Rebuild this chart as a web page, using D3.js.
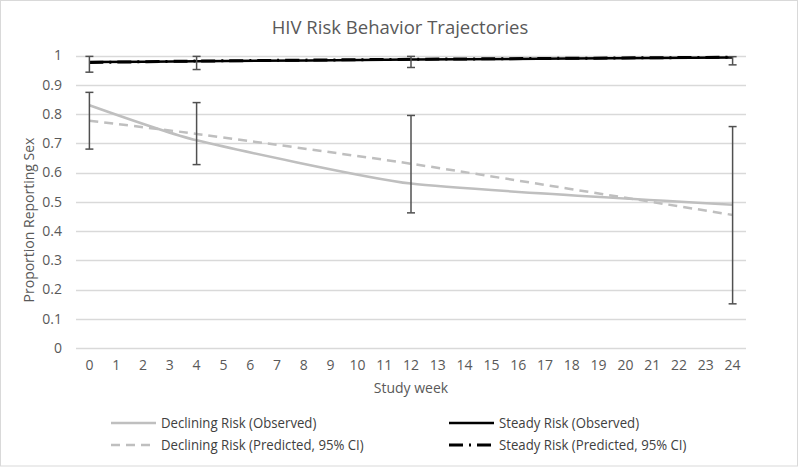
<!DOCTYPE html>
<html>
<head>
<meta charset="utf-8">
<script src="https://cdn.jsdelivr.net/npm/d3@7"></script>
<style>
  body { margin: 0; background: #fff; }
  text { font-family: "Open Sans", "Noto Sans", sans-serif; fill: #595959; }
  .legend text { fill: #404040; }
</style>
</head>
<body>
<svg></svg>
<script>
// category axis: study weeks 0..24
var weeks = d3.range(0, 25);
var yTicks = [0, 0.1, 0.2, 0.3, 0.4, 0.5, 0.6, 0.7, 0.8, 0.9, 1];

// measured weeks
var obsWeeks = [0, 4, 12, 24];

var decliningObserved  = [0.83, 0.71, 0.562, 0.49];
var decliningPredicted = [0.777, 0.732, 0.63, 0.455];
var decliningLower     = [0.68, 0.627, 0.462, 0.151];
var decliningUpper     = [0.874, 0.839, 0.795, 0.757];

var steadyObserved  = [0.978, 0.98, 0.986, 0.993];
var steadyPredicted = [0.976, 0.981, 0.987, 0.994];
var steadyLower     = [0.943, 0.952, 0.959, 0.968];
var steadyUpper     = [0.997, 0.997, 0.997, 0.996];

var legendItems = [
  { label: 'Declining Risk (Observed)', color: '#bfbfbf', dash: null, w: 2.5 },
  { label: 'Steady Risk (Observed)', color: '#000', dash: null, w: 2.5 },
  { label: 'Declining Risk (Predicted, 95% CI)', color: '#bfbfbf', dash: '9,6', w: 2.5 },
  { label: 'Steady Risk (Predicted, 95% CI)', color: '#000', dash: '14,6,2,6', w: 3 }
];

var W = 800, H = 468;
var margin = { top: 55.5, right: 54, bottom: 120, left: 76 };

var svg = d3.select('svg')
    .attr('width', W)
    .attr('height', H);

svg.append('rect')
    .attr('x', 0.5).attr('y', 0.5)
    .attr('width', W - 3).attr('height', H - 2.5)
    .attr('fill', '#fff')
    .attr('stroke', '#d9d9d9');

var x = d3.scaleBand().domain(weeks).range([margin.left, W - margin.right]);
var y = d3.scaleLinear().domain([0, 1]).range([H - margin.bottom, margin.top]);
var cx = function(w) { return x(w) + x.bandwidth() / 2; };

// gridlines
svg.append('g')
  .selectAll('line')
  .data(yTicks)
  .enter()
  .append('line')
    .attr('x1', x.range()[0])
    .attr('x2', x.range()[1])
    .attr('y1', function(d) { return Math.round(y(d)) + 0.5; })
    .attr('y2', function(d) { return Math.round(y(d)) + 0.5; })
    .attr('stroke', '#d9d9d9')
    .attr('stroke-width', 1.3);

// y axis labels
var yAxis = d3.axisLeft(y).tickValues(yTicks).tickSize(0).tickPadding(0)
    .tickFormat(function(d) { return d === 0 || d === 1 ? d3.format('d')(d) : d3.format('.1f')(d); });
var gy = svg.append('g')
    .attr('transform', 'translate(62,0)')
    .call(yAxis);
gy.select('.domain').remove();
gy.selectAll('text').style('font-size', '14px').attr('fill', '#595959');

// x axis labels
var xAxis = d3.axisBottom(x).tickSize(0).tickPadding(0);
var gx = svg.append('g')
    .attr('transform', 'translate(0,' + (H - margin.bottom) + ')')
    .call(xAxis);
gx.select('.domain').remove();
gx.selectAll('text').style('font-size', '14px').attr('fill', '#595959').attr('dy', '1.2em').attr('y', 5);

// titles
svg.append('text')
    .attr('x', 400).attr('y', 34)
    .attr('text-anchor', 'middle')
    .style('font-size', '18.5px')
    .text('HIV Risk Behavior Trajectories');

svg.append('text')
    .attr('x', 411).attr('y', 393)
    .attr('text-anchor', 'middle')
    .style('font-size', '14px')
    .text('Study week');

svg.append('text')
    .attr('transform', 'translate(34,220) rotate(-90)')
    .attr('text-anchor', 'middle')
    .style('font-size', '14px')
    .text('Proportion Reporting Sex');

function series(vals) {
  return obsWeeks.map(function(w, i) { return [w, vals[i]]; });
}

var line = d3.line()
    .x(function(d) { return cx(d[0]); })
    .y(function(d) { return y(d[1]); })
    .curve(d3.curveCardinal.tension(0.5));

var plot = svg.append('g');

plot.append('path')
    .datum(series(decliningPredicted))
    .attr('d', line)
    .attr('fill', 'none')
    .attr('stroke', '#bfbfbf')
    .attr('stroke-width', 2.5)
    .attr('stroke-dasharray', '9,6');

plot.append('path')
    .datum(series(decliningObserved))
    .attr('d', line)
    .attr('fill', 'none')
    .attr('stroke', '#bfbfbf')
    .attr('stroke-width', 2.5);

plot.append('path')
    .datum(series(steadyObserved))
    .attr('d', line)
    .attr('fill', 'none')
    .attr('stroke', '#000')
    .attr('stroke-width', 2.5);

plot.append('path')
    .datum(series(steadyPredicted))
    .attr('d', line)
    .attr('fill', 'none')
    .attr('stroke', '#000')
    .attr('stroke-width', 3)
    .attr('stroke-dasharray', '14,6,2,6');

// error bars
function errorBars(lower, upper) {
  var data = obsWeeks.map(function(w, i) { return { w: w, lo: lower[i], hi: upper[i] }; });
  var g = plot.append('g')
      .attr('stroke', '#505050')
      .attr('stroke-width', 1.5);
  g.selectAll('.bar')
    .data(data)
    .enter()
    .append('line')
      .attr('x1', function(d) { return cx(d.w); })
      .attr('x2', function(d) { return cx(d.w); })
      .attr('y1', function(d) { return y(d.lo); })
      .attr('y2', function(d) { return y(d.hi); });
  ['lo', 'hi'].forEach(function(k) {
    g.selectAll('.cap-' + k)
      .data(data)
      .enter()
      .append('line')
        .attr('x1', function(d) { return cx(d.w) - 4; })
        .attr('x2', function(d) { return cx(d.w) + 4; })
        .attr('y1', function(d) { return y(d[k]); })
        .attr('y2', function(d) { return y(d[k]); });
  });
}
errorBars(decliningLower, decliningUpper);
errorBars(steadyLower, steadyUpper);

// legend
var legend = svg.append('g').attr('class', 'legend');
var legendX = [111, 449], legendY = [423, 445];
var item = legend.selectAll('g')
    .data(legendItems)
    .enter()
    .append('g')
    .attr('transform', function(d, i) {
      return 'translate(' + legendX[i % 2] + ',' + legendY[Math.floor(i / 2)] + ')';
    });
item.append('line')
    .attr('x1', 0).attr('x2', 45)
    .attr('stroke', function(d) { return d.color; })
    .attr('stroke-width', function(d) { return d.w; })
    .attr('stroke-dasharray', function(d) { return d.dash; });
// condensed look of the original legend font
item.append('text')
    .attr('transform', 'translate(50,0) scale(0.88,1)')
    .attr('dy', '0.35em')
    .style('font-size', '15px')
    .text(function(d) { return d.label; });
</script>
</body>
</html>
